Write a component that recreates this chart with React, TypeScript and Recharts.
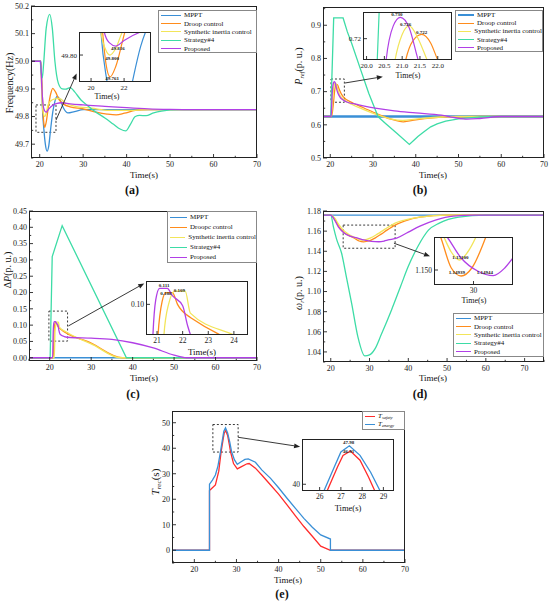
import React from "react";
import { LineChart, Line, XAxis, YAxis, ReferenceArea, ReferenceLine, ReferenceDot } from "recharts";

type Pt = [number, number];

const FONT = '"Liberation Serif", "Times New Roman", serif';
const BLUE = "#3a8fd6";
const ORANGE = "#ff8c1c";
const YELLOW = "#f2e55a";
const GREEN = "#3ddca6";
const PURPLE = "#b13fe6";
const RED = "#ff2b2b";

const timeTicks = [20, 30, 40, 50, 60, 70];

// (a) frequency
const freqTicks = [49.7, 49.8, 49.9, 50.0, 50.1, 50.2];
const freqMppt: Pt[] = [[15, 50], [20.3, 50], [20.6, 49.84], [20.97, 49.752], [21.3, 49.7], [21.7, 49.675], [22.1, 49.695], [22.5, 49.752], [23, 49.815], [23.3, 49.841], [24, 49.873], [24.7, 49.86], [25.5, 49.83], [26.5, 49.813], [28, 49.818], [30, 49.825], [70, 49.825]];
const freqDroop: Pt[] = [[15, 50], [20.2, 50], [20.5, 49.92], [20.7, 49.841], [20.9, 49.785], [21.15, 49.761], [21.5, 49.78], [22.05, 49.841], [22.5, 49.88], [23, 49.902], [23.6, 49.89], [24.5, 49.86], [25.5, 49.845], [27, 49.835], [30, 49.828], [33, 49.816], [35.5, 49.809], [37.6, 49.806], [39.5, 49.812], [42, 49.822], [45, 49.825], [70, 49.825]];
const freqSic: Pt[] = [[15, 50], [20.2, 50], [20.4, 49.92], [20.6, 49.841], [20.85, 49.812], [21.15, 49.8], [21.5, 49.812], [21.9, 49.841], [22.5, 49.856], [23.5, 49.864], [24.5, 49.866], [26, 49.848], [28, 49.838], [32, 49.83], [36, 49.822], [40, 49.822], [45, 49.825], [70, 49.825]];
const freqS4: Pt[] = [[15, 50], [20.1, 50], [20.35, 49.96], [20.6, 49.94], [20.9, 49.99], [21.5, 50.12], [22.3, 50.17], [22.9, 50.12], [23.5, 50.0], [24.3, 49.92], [25.2, 49.9], [26, 49.899], [27, 49.905], [28, 49.89], [29.5, 49.86], [31, 49.84], [33, 49.815], [35, 49.795], [37, 49.772], [38.5, 49.755], [39.8, 49.748], [40.8, 49.77], [42, 49.8], [43, 49.804], [44.5, 49.803], [46, 49.812], [48, 49.82], [52, 49.825], [70, 49.825]];
const freqProp: Pt[] = [[15, 50], [20.2, 50], [20.5, 49.9], [20.8, 49.841], [21.1, 49.822], [21.5, 49.816], [22, 49.826], [23, 49.841], [24, 49.848], [25, 49.85], [27, 49.846], [30, 49.842], [35, 49.837], [40, 49.832], [45, 49.828], [50, 49.826], [55, 49.825], [70, 49.825]];

// (b) Pref
const prefTicks = [0.5, 0.6, 0.7, 0.8, 0.9];
const prefMppt: Pt[] = [[15, 0.625], [70, 0.625]];
const prefDroop: Pt[] = [[15, 0.625], [20.3, 0.625], [20.7, 0.66], [21.1, 0.71], [21.3, 0.719], [21.55, 0.722], [21.8, 0.718], [22, 0.71], [22.5, 0.695], [23, 0.685], [25.4, 0.665], [28, 0.65], [31, 0.633], [34, 0.618], [37.1, 0.609], [40, 0.615], [44, 0.621], [48, 0.624], [55, 0.625], [70, 0.625]];
const prefSic: Pt[] = [[15, 0.625], [20.2, 0.625], [20.5, 0.67], [20.8, 0.71], [21, 0.722], [21.2, 0.726], [21.45, 0.72], [21.7, 0.71], [22.2, 0.69], [23, 0.678], [25, 0.662], [28, 0.645], [31, 0.63], [34, 0.618], [37, 0.613], [40, 0.617], [44, 0.622], [50, 0.625], [70, 0.625]];
const prefS4: Pt[] = [[15, 0.625], [20.1, 0.625], [20.8, 0.922], [23, 0.922], [24, 0.88], [25, 0.846], [27, 0.77], [29, 0.695], [31.2, 0.624], [33, 0.603], [35.5, 0.575], [38.5, 0.541], [39.5, 0.553], [40.5, 0.565], [42, 0.58], [43.5, 0.594], [45, 0.603], [47, 0.611], [50, 0.618], [55, 0.624], [60, 0.625], [70, 0.625]];
const prefProp: Pt[] = [[15, 0.625], [20.2, 0.625], [20.4, 0.68], [20.55, 0.71], [20.75, 0.726], [20.95, 0.73], [21.2, 0.725], [21.45, 0.71], [21.8, 0.695], [22.3, 0.683], [23, 0.675], [24, 0.668], [26, 0.662], [28, 0.656], [30.5, 0.65], [35, 0.642], [40, 0.636], [46, 0.629], [49, 0.622], [52, 0.617], [55, 0.619], [60, 0.625], [70, 0.625]];

// (c) delta P
const dpTicks = [0, 0.05, 0.1, 0.15, 0.2, 0.25, 0.3, 0.35, 0.4, 0.45];
const dpMppt: Pt[] = [[15, 0], [70, 0]];
const dpDroop: Pt[] = [[15, 0], [20.85, 0], [21.04, 0.079], [21.2, 0.102], [21.35, 0.108], [21.6, 0.108], [21.8, 0.1], [22.3, 0.091], [30, 0.0449], [37.5, 0], [70, 0]];
const dpSic: Pt[] = [[15, 0], [21.1, 0], [21.27, 0.079], [21.45, 0.1], [21.7, 0.109], [22.1, 0.109], [22.3, 0.094], [24, 0.079], [30.5, 0.0395], [37, 0], [70, 0]];
const dpS4: Pt[] = [[15, 0], [20.1, 0], [20.6, 0.31], [23, 0.405], [38.5, 0], [70, 0]];
const dpProp: Pt[] = [[15, 0], [20.7, 0], [20.84, 0.079], [20.95, 0.103], [21.1, 0.111], [21.4, 0.111], [21.6, 0.106], [22, 0.099], [22.2, 0.085], [22.5, 0.072], [23.5, 0.065], [25, 0.062], [30, 0.06], [35, 0.056], [40, 0.046], [45, 0.03], [50, 0.008], [53, 0], [70, 0]];

// (d) rotor speed
const wrTicks = [1.04, 1.06, 1.08, 1.1, 1.12, 1.14, 1.16, 1.18];
const wrMppt: Pt[] = [[15, 1.176], [75, 1.176]];
const wrDroop: Pt[] = [[15, 1.176], [20, 1.176], [21, 1.172], [22, 1.165], [23, 1.16], [24.5, 1.156], [26, 1.1533], [27.3, 1.1502], [28.5, 1.1494], [29.8, 1.1502], [31.5, 1.1533], [33, 1.157], [34.5, 1.161], [36.6, 1.166], [39, 1.17], [43, 1.174], [50, 1.176], [75, 1.176]];
const wrSic: Pt[] = [[15, 1.176], [20, 1.176], [21, 1.173], [22, 1.167], [23, 1.162], [24.5, 1.157], [26.4, 1.1533], [27.3, 1.1518], [28.3, 1.151], [29.3, 1.1518], [30.3, 1.1533], [32, 1.157], [34, 1.162], [36.6, 1.168], [39, 1.171], [43, 1.174], [50, 1.176], [75, 1.176]];
const wrS4: Pt[] = [[15, 1.176], [20, 1.176], [20.7, 1.164], [21.5, 1.152], [22.8, 1.138], [24, 1.115], [25.4, 1.088], [27, 1.055], [28.8, 1.036], [30, 1.037], [31.4, 1.043], [33, 1.057], [35.7, 1.082], [38, 1.105], [40, 1.125], [42.5, 1.145], [45.2, 1.161], [48, 1.168], [53, 1.174], [60, 1.176], [75, 1.176]];
const wrProp: Pt[] = [[15, 1.176], [20, 1.176], [21, 1.171], [22, 1.164], [23.2, 1.159], [25, 1.155], [26.8, 1.1533], [28.5, 1.1512], [30.5, 1.1499], [32.4, 1.14944], [33.8, 1.1502], [34.8, 1.1512], [37, 1.153], [40, 1.159], [43, 1.165], [47, 1.171], [51.6, 1.175], [57, 1.176], [75, 1.176]];

// (e) recovery time
const trecTicks = [0, 10, 20, 30, 40, 50];
const trecEnergy: Pt[] = [[14, 0], [23.6, 0], [23.6, 25.9], [24.3, 27.5], [25, 29.5], [25.6, 33], [26.2, 38.6], [26.7, 43.7], [27, 46.7], [27.4, 47.98], [27.9, 46], [28.4, 42.5], [28.85, 38.6], [29.5, 35.5], [30.2, 33.7], [31, 34.6], [32, 35.6], [32.8, 35.8], [34.5, 34.5], [36, 31.5], [38.1, 28.2], [40, 24.5], [42, 20.4], [44, 16.4], [46, 12.5], [48, 9], [50, 6], [52.3, 4.4], [52.3, 0], [70, 0]];
const trecSafety: Pt[] = [[14, 0], [23.6, 0], [23.6, 23.4], [24.3, 24.5], [25, 25.6], [25.8, 31], [26.35, 38.6], [26.85, 43.7], [27.1, 46], [27.45, 46.91], [27.9, 45], [28.3, 41.5], [28.6, 38.6], [29.3, 34], [30.2, 31.9], [31.2, 32.8], [32.5, 33.9], [33, 34], [34.5, 32.2], [36, 29.5], [38.1, 25.6], [40, 22], [42, 17.8], [44, 13.5], [46, 9.3], [48, 5.5], [50, 1.6], [52.3, 0], [70, 0]];

interface Series { key: string; name: React.ReactNode; color: string; pts: Pt[]; width?: number; curve?: "monotone" | "linear" }
interface Rect { x: number; y: number; w: number; h: number }

const rows = (pts: Pt[]) => pts.map(([t, v]) => ({ t, v }));
const fix = (n: number) => (v: number) => v.toFixed(n);
const plain = (v: number) => String(v);

// majors plus the half steps between them, inside the domain
const withMinor = (ticks: number[], dom: number[]) => {
    if (ticks.length < 2) return ticks;
    const half = (ticks[1] - ticks[0]) / 2;
    const out: number[] = [];
    for (let v = ticks[0] - half; v <= dom[1] + 1e-9; v += half) {
        if (v >= dom[0] - 1e-9) out.push(+v.toFixed(6));
    }
    return out;
};

const arrowShape = (p: any) => {
    const { x1, y1, x2, y2 } = p;
    const a = Math.atan2(y2 - y1, x2 - x1);
    const L = 6, W = 2.4;
    const bx = x2 - L * Math.cos(a), by = y2 - L * Math.sin(a);
    const pts = `${x2},${y2} ${bx - W * Math.sin(a)},${by + W * Math.cos(a)} ${bx + W * Math.sin(a)},${by - W * Math.cos(a)}`;
    return (
        <g>
            <line x1={x1} y1={y1} x2={bx} y2={by} stroke="#222" strokeWidth={0.9} />
            <polygon points={pts} fill="#222" />
        </g>
    );
};

const Plot: React.FC<{
    rect: Rect; xDomain: number[]; xTicks: number[]; yDomain: number[]; yTicks: number[];
    yFmt?: (v: number) => string; xFmt?: (v: number) => string; series: Series[]; minor?: boolean;
    yw?: number; xh?: number; fs?: number; width?: number; bg?: boolean; children?: React.ReactNode;
}> = ({ rect, xDomain, xTicks, yDomain, yTicks, yFmt = plain, xFmt = plain, series, minor, yw = 30, xh = 14, fs = 8, width = 1.3, bg, children }) => {
    const pad = 6;
    const axisY = pad + rect.h;
    const isMajor = (list: number[], v: number) => list.some((t) => Math.abs(t - v) < 1e-6);
    const xAll = minor ? withMinor(xTicks, xDomain) : xTicks;
    const yAll = minor ? withMinor(yTicks, yDomain) : yTicks;
    const txt = { fontSize: fs, fill: "#222", fontFamily: FONT };
    const xTick = (p: any) => {
        const v = p.payload.value;
        const major = isMajor(xTicks, v);
        return (
            <g>
                <line x1={p.x} x2={p.x} y1={axisY} y2={axisY - (major ? 4 : 2.2)} stroke="#222" strokeWidth={0.9} />
                {major && <text x={p.x} y={axisY + 3} dy="0.71em" textAnchor="middle" {...txt}>{xFmt(v)}</text>}
            </g>
        );
    };
    const yTick = (p: any) => {
        const v = p.payload.value;
        const major = isMajor(yTicks, v);
        return (
            <g>
                <line x1={yw} x2={yw + (major ? 4 : 2.2)} y1={p.y} y2={p.y} stroke="#222" strokeWidth={0.9} />
                {major && <text x={yw - 2} y={p.y} dy="0.355em" textAnchor="end" {...txt}>{yFmt(v)}</text>}
            </g>
        );
    };
    return (
        <>
            {bg && <div style={{ position: "absolute", left: rect.x, top: rect.y, width: rect.w, height: rect.h, background: "#fff" }} />}
            <div style={{ position: "absolute", left: rect.x - yw, top: rect.y - pad }}>
                <LineChart width={yw + rect.w + pad} height={pad + rect.h + xh} margin={{ top: pad, right: pad, bottom: 0, left: 0 }}>
                    <XAxis type="number" dataKey="t" domain={xDomain} ticks={xAll} allowDataOverflow height={xh}
                        axisLine={false} tickLine={false} tick={xTick} interval={0} />
                    <YAxis type="number" domain={yDomain} ticks={yAll} allowDataOverflow width={yw}
                        axisLine={false} tickLine={false} tick={yTick} interval={0} />
                    {series.map((s) => (
                        <Line key={s.key} data={rows(s.pts)} dataKey="v" type={s.curve ?? "monotone"} stroke={s.color}
                            strokeWidth={s.width ?? width} dot={false} activeDot={false} isAnimationActive={false} />
                    ))}
                    {children}
                </LineChart>
            </div>
            <div style={{ position: "absolute", left: rect.x, top: rect.y, width: rect.w, height: rect.h, border: "1.2px solid #222", boxSizing: "border-box" }} />
        </>
    );
};

const Txt: React.FC<{ x: number; y: number; size?: number; bold?: boolean; rotate?: boolean; children: React.ReactNode }> = ({ x, y, size = 9, bold, rotate, children }) => (
    <div style={{ position: "absolute", left: x, top: y, transform: `translate(-50%,-50%)${rotate ? " rotate(-90deg)" : ""}`, fontSize: size, fontWeight: bold ? 700 : 400, whiteSpace: "nowrap", lineHeight: 1, fontFamily: FONT, color: "#111" }}>{children}</div>
);

const LegendBox: React.FC<{ x: number; y: number; w: number; h: number; row: number; sample: number; items: Series[] }> = ({ x, y, w, h, row, sample, items }) => (
    <div style={{ position: "absolute", left: x, top: y, width: w, height: h, border: "1px solid #888", background: "#fff", boxSizing: "border-box", paddingTop: (h - 2 - row * items.length) / 2, overflow: "hidden" }}>
        {items.map((s) => (
            <div key={s.key} style={{ display: "flex", alignItems: "center", height: row, fontFamily: FONT, fontSize: 7, color: "#111", whiteSpace: "nowrap" }}>
                <span style={{ display: "inline-block", width: sample, marginLeft: 2, marginRight: 3, borderTop: `${Math.max(1.5, s.width ?? 1.5)}px solid ${s.color}` }} />
                <span>{s.name}</span>
            </div>
        ))}
    </div>
);

const Note = ({ x, y, v }: { x: number; y: number; v: string }) => (
    <ReferenceDot x={x} y={y} r={0} fill="none" stroke="none" ifOverflow="visible"
        label={{ value: v, position: "center", fontSize: 5, fill: "#222", fontFamily: FONT, fontWeight: 700 }} />
);

const sub = (s: string) => <span style={{ fontSize: "0.65em", verticalAlign: "-0.3em", fontStyle: "italic" }}>{s}</span>;

export default function App() {
    const sA: Series[] = [
        { key: "m", name: "MPPT", color: BLUE, pts: freqMppt },
        { key: "d", name: "Droop control", color: ORANGE, pts: freqDroop },
        { key: "s", name: "Synthetic inertia control", color: YELLOW, pts: freqSic },
        { key: "g", name: "Strategy#4", color: GREEN, pts: freqS4 },
        { key: "p", name: "Proposed", color: PURPLE, pts: freqProp },
    ];
    const sB: Series[] = [
        { key: "m", name: "MPPT", color: BLUE, pts: prefMppt, width: 2.4 },
        { key: "d", name: "Droop control", color: ORANGE, pts: prefDroop },
        { key: "s", name: "Synthetic inertia control", color: YELLOW, pts: prefSic },
        { key: "g", name: "Strategy#4", color: GREEN, pts: prefS4, curve: "linear" },
        { key: "p", name: "Proposed", color: PURPLE, pts: prefProp },
    ];
    const sC: Series[] = [
        { key: "m", name: "MPPT", color: BLUE, pts: dpMppt },
        { key: "d", name: "Droopc control", color: ORANGE, pts: dpDroop },
        { key: "s", name: "Synthetic inertia control", color: YELLOW, pts: dpSic },
        { key: "g", name: "Strategy#4", color: GREEN, pts: dpS4, curve: "linear" },
        { key: "p", name: "Proposed", color: PURPLE, pts: dpProp },
    ];
    const sD: Series[] = [
        { key: "m", name: "MPPT", color: BLUE, pts: wrMppt },
        { key: "d", name: "Droop control", color: ORANGE, pts: wrDroop },
        { key: "s", name: "Synthetic inertia control", color: YELLOW, pts: wrSic },
        { key: "g", name: "Strategy#4", color: GREEN, pts: wrS4 },
        { key: "p", name: "Proposed", color: PURPLE, pts: wrProp },
    ];
    const sE: Series[] = [
        { key: "r", name: <><i>T</i>{sub("safety")}</>, color: RED, pts: trecSafety, curve: "linear" },
        { key: "b", name: <><i>T</i>{sub("energy")}</>, color: BLUE, pts: trecEnergy, curve: "linear" },
    ];
    const box = { fill: "none", fillOpacity: 0, stroke: "#222", strokeWidth: 0.9, strokeDasharray: "2 2", ifOverflow: "visible" as const };

    return (
        <div style={{ position: "absolute", left: 0, top: 0, width: 550, height: 602, background: "#fff", overflow: "hidden", fontFamily: FONT }}>
            {/* (a) */}
            <Plot rect={{ x: 31, y: 6, w: 226, h: 152 }} xDomain={[18, 70]} xTicks={timeTicks} yDomain={[49.65, 50.2]} yTicks={freqTicks} yFmt={fix(1)} series={sA} minor>
                <ReferenceArea x1={19.15} x2={23.75} y1={49.743} y2={49.842} {...box} />
                <ReferenceLine segment={[{ x: 23.75, y: 49.787 }, { x: 28.5, y: 49.956 }]} shape={arrowShape} ifOverflow="visible" />
            </Plot>
            <Plot rect={{ x: 79, y: 32, w: 72, h: 50 }} xDomain={[19.27, 23.63]} xTicks={[20, 22]} yDomain={[49.752, 49.841]} yTicks={[49.8]} yFmt={fix(2)} series={sA} fs={7} yw={24} xh={11} width={1.2} bg>
                <Note x={21.63} y={49.813} v="49.816" />
                <Note x={21.27} y={49.794} v="49.800" />
                <Note x={21.27} y={49.758} v="49.761" />
            </Plot>
            <Txt x={107} y={97} size={8}>Time(s)</Txt>
            <LegendBox x={158} y={10} w={99} h={43} row={8.4} sample={20} items={sA} />
            <Txt x={10} y={83} size={10} rotate>Frequency(Hz)</Txt>
            <Txt x={144} y={175} size={9}>Time(s)</Txt>
            <Txt x={132} y={190} size={12} bold>(a)</Txt>

            {/* (b) */}
            <Plot rect={{ x: 323, y: 7, w: 221, h: 151 }} xDomain={[18.3, 70]} xTicks={timeTicks} yDomain={[0.5, 0.955]} yTicks={prefTicks} yFmt={fix(1)} series={sB} minor>
                <ReferenceArea x1={20.17} x2={23.3} y1={0.668} y2={0.738} {...box} />
                <ReferenceLine segment={[{ x: 23.45, y: 0.726 }, { x: 32.3, y: 0.745 }]} shape={arrowShape} ifOverflow="visible" />
            </Plot>
            <Plot rect={{ x: 363, y: 12, w: 89, h: 48 }} xDomain={[19.9, 22.4]} xTicks={[20, 20.5, 21, 21.5, 22]} xFmt={fix(1)} yDomain={[0.71, 0.7325]} yTicks={[0.72]} yFmt={fix(2)} series={sB} fs={7} yw={22} xh={11} width={1.2} bg>
                <Note x={20.85} y={0.7316} v="0.730" />
                <Note x={21.1} y={0.7269} v="0.726" />
                <Note x={21.55} y={0.723} v="0.722" />
            </Plot>
            <Txt x={408} y={76} size={8}>Time(s)</Txt>
            <LegendBox x={455} y={10} w={88} h={42} row={8.2} sample={16} items={sB} />
            <Txt x={300} y={66} size={10} rotate><i>P</i>{sub("ref")}(p. u.)</Txt>
            <Txt x={433} y={175} size={9}>Time(s)</Txt>
            <Txt x={420} y={190} size={12} bold>(b)</Txt>

            {/* (c) */}
            <Plot rect={{ x: 29, y: 211, w: 228, h: 150 }} xDomain={[15, 70]} xTicks={timeTicks} yDomain={[-0.01, 0.45]} yTicks={dpTicks} yFmt={fix(2)} series={sC} minor>
                <ReferenceArea x1={19.8} x2={24.3} y1={0.051} y2={0.143} {...box} />
                <ReferenceLine segment={[{ x: 24.5, y: 0.0975 }, { x: 42.8, y: 0.228 }]} shape={arrowShape} ifOverflow="visible" />
            </Plot>
            <Plot rect={{ x: 146, y: 281, w: 102, h: 54 }} xDomain={[20.57, 24.55]} xTicks={[21, 22, 23, 24]} yDomain={[0.079, 0.116]} yTicks={[0.1]} yFmt={fix(2)} series={sC} fs={7.5} yw={22} xh={12} width={1.3} bg>
                <Note x={21.28} y={0.1133} v="0.111" />
                <Note x={21.35} y={0.1076} v="0.108" />
                <Note x={21.87} y={0.1098} v="0.109" />
            </Plot>
            <Txt x={202} y={352} size={9}>Time(s)</Txt>
            <LegendBox x={167} y={211} w={90} h={52} row={10} sample={17} items={sC} />
            <Txt x={8} y={270} size={10} rotate>Δ<i>P</i>(p. u.)</Txt>
            <Txt x={144} y={378} size={9}>Time(s)</Txt>
            <Txt x={133} y={394} size={12} bold>(c)</Txt>

            {/* (d) */}
            <Plot rect={{ x: 323, y: 211, w: 221, h: 151 }} xDomain={[18, 75]} xTicks={timeTicks} yDomain={[1.03, 1.18]} yTicks={wrTicks} yFmt={fix(2)} series={sD} minor>
                <ReferenceArea x1={23.2} x2={36.6} y1={1.143} y2={1.166} {...box} />
                <ReferenceLine segment={[{ x: 36.3, y: 1.148 }, { x: 45.6, y: 1.135 }]} shape={arrowShape} ifOverflow="visible" />
            </Plot>
            <Plot rect={{ x: 434, y: 237, w: 79, h: 48 }} xDomain={[25.2, 34.8]} xTicks={[30]} yDomain={[1.1485, 1.1533]} yTicks={[1.15]} yFmt={fix(3)} series={sD} fs={7.5} yw={26} xh={12} width={1.3} bg>
                <Note x={28.42} y={1.1513} v="1.15100" />
                <Note x={27.97} y={1.14978} v="1.14939" />
                <Note x={31.38} y={1.14978} v="1.14944" />
            </Plot>
            <Txt x={474} y={301} size={8}>Time(s)</Txt>
            <LegendBox x={453} y={313} w={91} h={44} row={8.4} sample={15} items={sD} />
            <Txt x={300} y={293} size={10} rotate><i>ω</i>{sub("r")}(p. u.)</Txt>
            <Txt x={433} y={378} size={9}>Time(s)</Txt>
            <Txt x={420} y={394} size={12} bold>(d)</Txt>

            {/* (e) */}
            <Plot rect={{ x: 172, y: 411, w: 233, h: 152 }} xDomain={[14.7, 70]} xTicks={timeTicks} yDomain={[-5, 54.6]} yTicks={trecTicks} series={sE} minor>
                <ReferenceArea x1={24.4} x2={30.4} y1={38.5} y2={49.3} {...box} />
                <ReferenceLine segment={[{ x: 30.4, y: 44.3 }, { x: 45.1, y: 40.6 }]} shape={arrowShape} ifOverflow="visible" />
            </Plot>
            <Plot rect={{ x: 302, y: 439, w: 92, h: 52 }} xDomain={[25.17, 29.5]} xTicks={[26, 27, 28, 29]} yDomain={[38.6, 49.4]} yTicks={[40]} series={sE} fs={7.5} yw={20} xh={12} width={1.3} bg>
                <Note x={27.36} y={48.72} v="47.98" />
                <Note x={27.36} y={46.77} v="46.91" />
            </Plot>
            <Txt x={348} y={508} size={8.5}>Time(s)</Txt>
            <LegendBox x={362} y={411} w={43} h={19} row={8.2} sample={10} items={sE} />
            <Txt x={157} y={482} size={11} rotate><i>T</i>{sub("rec")}(s)</Txt>
            <Txt x={288} y={580} size={9}>Time(s)</Txt>
            <Txt x={282} y={594} size={12} bold>(e)</Txt>
        </div>
    );
}
